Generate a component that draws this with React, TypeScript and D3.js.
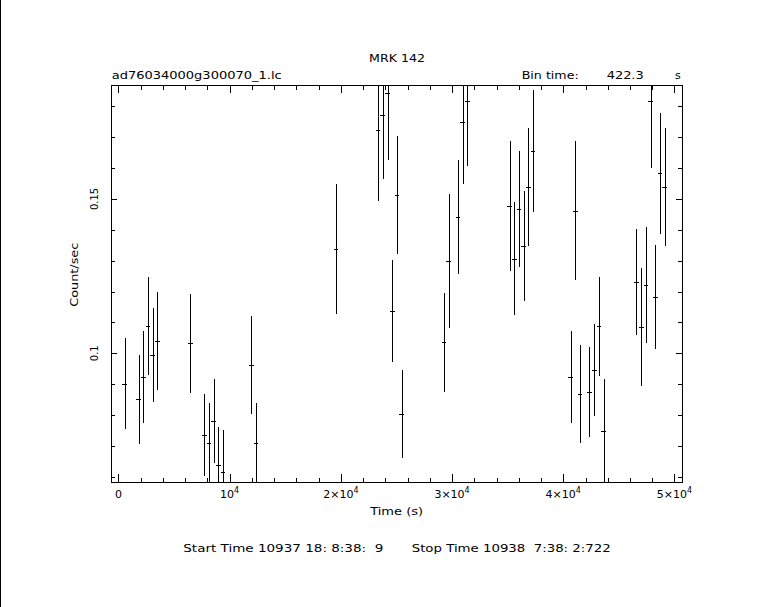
import React from "react";
import * as d3 from "d3";

const binTime = 422.3;
const times = [549, 1816, 2238, 2660, 3083, 3505, 6461, 7728, 8150, 8573, 8995, 9417, 11951, 12373, 19552, 23353, 23775, 24197, 24620, 25042, 25465, 29266, 29688, 30532, 30955, 31377, 35178, 35600, 36023, 36445, 36868, 37290, 40668, 41090, 41513, 42357, 42779, 43202, 43624, 46580, 47003, 47425, 47847, 48270, 48692, 49114];
const rates = [0.0901, 0.0851, 0.0923, 0.1088, 0.0994, 0.1040, 0.1032, 0.0735, 0.0709, 0.0781, 0.0638, 0.0616, 0.0962, 0.0709, 0.1337, 0.1724, 0.1772, 0.1843, 0.1137, 0.1512, 0.0803, 0.1036, 0.1298, 0.1442, 0.1749, 0.1817, 0.1476, 0.1306, 0.1468, 0.1348, 0.1538, 0.1656, 0.0923, 0.1462, 0.0868, 0.0875, 0.0946, 0.1087, 0.0748, 0.1231, 0.1085, 0.1221, 0.1818, 0.1182, 0.1583, 0.1539];
const errors = [0.0147, 0.0144, 0.0150, 0.0160, 0.0153, 0.0158, 0.0160, 0.0133, 0.0131, 0.0137, 0.0124, 0.0134, 0.0160, 0.0131, 0.0210, 0.0232, 0.0206, 0.0218, 0.0165, 0.0191, 0.0142, 0.0160, 0.0217, 0.0185, 0.0202, 0.0212, 0.0210, 0.0183, 0.0188, 0.0179, 0.0191, 0.0198, 0.0150, 0.0226, 0.0159, 0.0146, 0.0150, 0.0160, 0.0169, 0.0171, 0.0192, 0.0189, 0.0219, 0.0168, 0.0196, 0.0191];

const xMajorTicks = [0, 10000, 20000, 30000, 40000, 50000];
const xTickMantissa = ["0", "", "2\u00d7", "3\u00d7", "4\u00d7", "5\u00d7"];
const xMinorStep = 2000;
const yMajorTicks = [0.1, 0.15];
const yTickLabels = ["0.1", "0.15"];
const yMinorTicks = [0.06, 0.07, 0.08, 0.09, 0.1, 0.11, 0.12, 0.13, 0.14, 0.15, 0.16, 0.17, 0.18];

const title = "MRK 142";
const fileName = "ad76034000g300070_1.lc";
const binLabel = "Bin time:";
const binValue = "422.3";
const binUnit = "s";
const xLabel = "Time (s)";
const yLabel = "Count/sec";
const footerStart = "Start Time 10937 18: 8:38:  9";
const footerStop = "Stop Time 10938  7:38: 2:722";

const W = 757, H = 607;
const L = 111, R = 682, T = 85, B = 482;
const FONT = "DejaVu Sans, Liberation Sans, sans-serif";

export default function App() {
  const x = d3.scaleLinear().domain([-666, 50675]).range([L, R]);
  const y = d3.scaleLinear().domain([0.0583, 0.1869]).range([B, T]);
  const r = (v: number) => Math.round(v) + 0.5;

  const xMinor = d3.range(0, 50001, xMinorStep);
  const ticks: JSX.Element[] = [];
  xMinor.forEach((v, i) => {
    const major = v % 10000 === 0;
    const len = major ? 8 : 4.5;
    const px = r(x(v));
    ticks.push(<line key={"xb" + i} x1={px} x2={px} y1={B} y2={B - len} />);
    ticks.push(<line key={"xt" + i} x1={px} x2={px} y1={T} y2={T + len} />);
  });
  yMinorTicks.forEach((v, i) => {
    const major = yMajorTicks.some((m) => Math.abs(m - v) < 1e-9);
    const len = major ? 6 : 4;
    const py = r(y(v));
    ticks.push(<line key={"yl" + i} x1={L} x2={L + len} y1={py} y2={py} />);
    ticks.push(<line key={"yr" + i} x1={R} x2={R - len} y1={py} y2={py} />);
  });

  const half = binTime / 2;
  const bars = times.map((t, i) => {
    const px = r(x(t));
    const py = r(y(rates[i]));
    return (
      <g key={"p" + i}>
        <line x1={px} x2={px} y1={y(rates[i] - errors[i])} y2={y(rates[i] + errors[i])} />
        <line x1={x(t - half)} x2={x(t + half)} y1={py} y2={py} />
      </g>
    );
  });

  return (
    <svg width={W} height={H} style={{ position: "absolute", left: 0, top: 0, background: "#fff" }}>
      <rect x={0} y={0} width={W} height={H} fill="#fff" />
      <line x1={0.5} x2={0.5} y1={0} y2={H} stroke="#000" strokeWidth={1} />
      <defs>
        <clipPath id="plotclip">
          <rect x={L} y={T} width={R - L} height={B - T} />
        </clipPath>
      </defs>
      <g stroke="#000" strokeWidth={1} shapeRendering="crispEdges" fill="none">
        <g clipPath="url(#plotclip)">{bars}</g>
        {ticks}
        <rect x={L + 0.5} y={T + 0.5} width={R - L} height={B - T} />
      </g>
      <g fill="#000" fontFamily={FONT} fontSize={11}>
        <text x={397} y={61.5} textAnchor="middle" textLength={56} lengthAdjust="spacingAndGlyphs">{title}</text>
        <text x={111.7} y={79} textLength={170} lengthAdjust="spacingAndGlyphs">{fileName}</text>
        <text x={521.7} y={79} textLength={57} lengthAdjust="spacingAndGlyphs">{binLabel}</text>
        <text x={606.7} y={79} textLength={37} lengthAdjust="spacingAndGlyphs">{binValue}</text>
        <text x={675} y={79}>{binUnit}</text>
        <text x={396.7} y={515} textAnchor="middle" textLength={53} lengthAdjust="spacingAndGlyphs">{xLabel}</text>
        <text x={183.3} y={552} textLength={200} lengthAdjust="spacingAndGlyphs" style={{ whiteSpace: "pre" }}>{footerStart}</text>
        <text x={411.7} y={552} textLength={199} lengthAdjust="spacingAndGlyphs" style={{ whiteSpace: "pre" }}>{footerStop}</text>
        <text transform={`translate(77.7,274.7) rotate(-90)`} textAnchor="middle" textLength={64} lengthAdjust="spacingAndGlyphs">{yLabel}</text>
        {xMajorTicks.map((v, i) => (
          <text key={"xl" + i} x={x(v)} y={498.3} textAnchor="middle">
            {v === 0 ? (
              xTickMantissa[i]
            ) : (
              <>
                {xTickMantissa[i]}10
                <tspan fontSize={8} dy={-5}>4</tspan>
              </>
            )}
          </text>
        ))}
        {yMajorTicks.map((v, i) => (
          <text key={"yl" + i} transform={`translate(97.7,${y(v)}) rotate(-90)`} textAnchor="middle" fontSize={10}>
            {yTickLabels[i]}
          </text>
        ))}
      </g>
    </svg>
  );
}
